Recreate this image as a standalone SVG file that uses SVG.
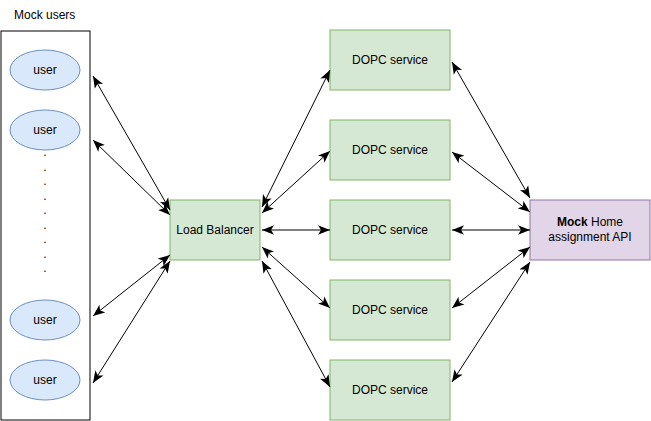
<svg xmlns="http://www.w3.org/2000/svg" width="651" height="421" viewBox="0 0 651 421">
<style>
text{font-family:"Liberation Sans",Arial,Helvetica,sans-serif;font-size:12px;fill:#000}
.c{text-anchor:middle}
.green{fill:#d5e8d4;stroke:#82b366;stroke-width:1}
.user{fill:#dae8fc;stroke:#6c8ebf;stroke-width:1}
.api{fill:#e1d5e7;stroke:#9673a6;stroke-width:1}
.edge{stroke:#000;stroke-width:1;fill:none;marker-start:url(#arr);marker-end:url(#arr)}
</style>
<defs>
<marker id="arr" markerUnits="userSpaceOnUse" markerWidth="12" markerHeight="10" viewBox="0 0 10 8" refX="10" refY="4" orient="auto-start-reverse">
<path d="M0,0 L10,4 L0,8 L2.5,4 Z" fill="#000"/>
</marker>
</defs>
<g id="mock-users">
<rect x="1" y="31" width="89" height="389" fill="#fff" stroke="#000"/>
<text x="14" y="18.5">Mock users</text>
</g>
<g id="user1"><ellipse class="user" cx="45" cy="70" rx="35" ry="20"/><text class="c" x="45" y="74">user</text></g>
<g id="user2"><ellipse class="user" cx="45" cy="130" rx="35" ry="20"/><text class="c" x="45" y="134">user</text></g>
<g id="dots"><text class="c" x="45" y="156"><tspan x="45" dy="0">.</tspan><tspan x="45" dy="14.5">.</tspan><tspan x="45" dy="14.5">.</tspan><tspan x="45" dy="14.5">.</tspan><tspan x="45" dy="14.5">.</tspan><tspan x="45" dy="14.5">.</tspan><tspan x="45" dy="14.5">.</tspan><tspan x="45" dy="14.5">.</tspan><tspan x="45" dy="14.5">.</tspan></text></g>
<g id="user3"><ellipse class="user" cx="45" cy="320" rx="35" ry="20"/><text class="c" x="45" y="324">user</text></g>
<g id="user4"><ellipse class="user" cx="45" cy="380" rx="35" ry="20"/><text class="c" x="45" y="384">user</text></g>
<g id="load-balancer"><rect class="green" x="170" y="200" width="90" height="60"/><text class="c" x="215" y="234">Load Balancer</text></g>
<g id="dopc1"><rect class="green" x="330" y="30" width="120" height="60"/><text class="c" x="390" y="64">DOPC service</text></g>
<g id="dopc2"><rect class="green" x="330" y="120" width="120" height="60"/><text class="c" x="390" y="154">DOPC service</text></g>
<g id="dopc3"><rect class="green" x="330" y="200" width="120" height="60"/><text class="c" x="390" y="234">DOPC service</text></g>
<g id="dopc4"><rect class="green" x="330" y="280" width="120" height="60"/><text class="c" x="390" y="314">DOPC service</text></g>
<g id="dopc5"><rect class="green" x="330" y="360" width="120" height="60"/><text class="c" x="390" y="394">DOPC service</text></g>
<g id="mock-api"><rect class="api" x="530" y="200" width="120" height="60"/><text class="c" x="590" y="226"><tspan font-weight="bold">Mock</tspan> Home</text><text class="c" x="590" y="241">assignment API</text></g>
<g id="connectors">
<line class="edge" x1="93" y1="76" x2="170" y2="210"/>
<line class="edge" x1="93" y1="140" x2="170" y2="215"/>
<line class="edge" x1="93" y1="316" x2="170" y2="255"/>
<line class="edge" x1="93" y1="383" x2="170" y2="261"/>
<line class="edge" x1="262" y1="207" x2="330" y2="70"/>
<line class="edge" x1="262" y1="213" x2="330" y2="151"/>
<line class="edge" x1="262" y1="230" x2="330" y2="230"/>
<line class="edge" x1="262" y1="247" x2="330" y2="308"/>
<line class="edge" x1="262" y1="261" x2="330" y2="387"/>
<line class="edge" x1="452" y1="62" x2="530" y2="198"/>
<line class="edge" x1="452" y1="152" x2="530" y2="212"/>
<line class="edge" x1="452" y1="230" x2="530" y2="230"/>
<line class="edge" x1="452" y1="308" x2="530" y2="247"/>
<line class="edge" x1="452" y1="382" x2="530" y2="262"/>
</g>
</svg>
